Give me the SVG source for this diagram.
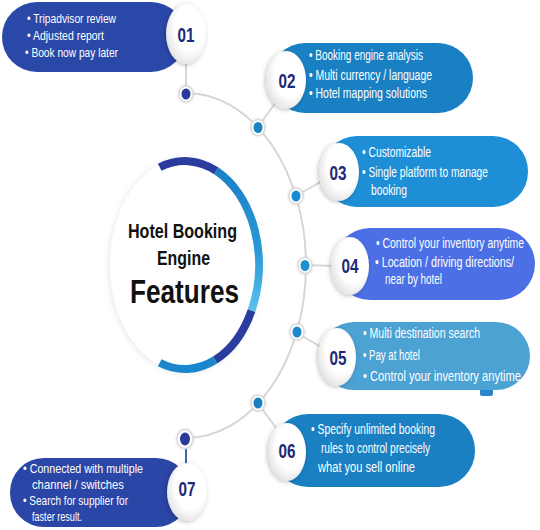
<svg xmlns="http://www.w3.org/2000/svg" width="540" height="530" viewBox="0 0 540 530">
<defs>
<style>
.t{font-family:"Liberation Sans",Arial,sans-serif;fill:#fff;font-size:14px}
.t1{font-size:13.5px}
.n{font-family:"Liberation Sans",Arial,sans-serif;fill:#1d2a78;font-size:21px;font-weight:bold;text-anchor:middle}
.c{font-family:"Liberation Sans",Arial,sans-serif;fill:#111;font-weight:bold}
.num{fill:url(#sph);filter:url(#sh)}
.link{stroke:#d6d6d6;stroke-width:2;fill:none}
.halo{fill:#fff;stroke:#dcdcdc;stroke-width:1.5;filter:url(#sh2)}
</style>
<radialGradient id="sph" cx="0.6" cy="0.4" r="0.65">
<stop offset="0.6" stop-color="#ffffff"/>
<stop offset="1" stop-color="#e2e2e2"/>
</radialGradient>
<linearGradient id="ringg" gradientUnits="userSpaceOnUse" x1="0" y1="170" x2="0" y2="310">
<stop offset="0" stop-color="#1a80c8"/>
<stop offset="0.6" stop-color="#2a9ad8"/>
<stop offset="1" stop-color="#5cc0ec"/>
</linearGradient>
<filter id="sh" x="-40%" y="-40%" width="180%" height="180%">
<feDropShadow dx="-1" dy="1" stdDeviation="2" flood-color="#000" flood-opacity="0.25"/>
</filter>
<filter id="sh2" x="-50%" y="-50%" width="200%" height="200%">
<feDropShadow dx="0" dy="0" stdDeviation="1.2" flood-color="#000" flood-opacity="0.2"/>
</filter>
<filter id="sh3" x="-20%" y="-20%" width="140%" height="140%">
<feDropShadow dx="-1" dy="1" stdDeviation="3" flood-color="#000" flood-opacity="0.1"/>
</filter>
</defs>
<rect width="540" height="530" fill="#fff"/>

<g id="connectors">
<path class="link" d="M186 93 A120 172.5 0 0 1 186 438"/>
<line class="link" x1="186" y1="64" x2="186" y2="93"/>
<line class="link" x1="258" y1="127" x2="276" y2="102"/>
<line class="link" x1="296" y1="196" x2="322" y2="181"/>
<line class="link" x1="306" y1="265" x2="332" y2="266"/>
<line class="link" x1="297" y1="333" x2="321" y2="347"/>
<line class="link" x1="258" y1="403" x2="276" y2="428"/>
<line x1="186" y1="440" x2="186" y2="468" stroke="#3a6aae" stroke-width="2"/>
<ellipse class="halo" cx="186" cy="94" rx="7" ry="8"/><ellipse cx="186" cy="94" rx="4.5" ry="5.5" fill="#2a3a9a"/>
<ellipse class="halo" cx="258" cy="127.5" rx="7" ry="8"/><ellipse cx="258" cy="127.5" rx="4.5" ry="5.5" fill="#1b84c8"/>
<ellipse class="halo" cx="296" cy="196" rx="7" ry="8"/><ellipse cx="296" cy="196" rx="4.5" ry="5.5" fill="#1b8ad0"/>
<ellipse class="halo" cx="305" cy="265.5" rx="7" ry="8"/><ellipse cx="305" cy="265.5" rx="4.5" ry="5.5" fill="#1e90d0"/>
<ellipse class="halo" cx="297" cy="332" rx="7" ry="8"/><ellipse cx="297" cy="332" rx="4.5" ry="5.5" fill="#1e88cc"/>
<ellipse class="halo" cx="258" cy="403" rx="7" ry="8"/><ellipse cx="258" cy="403" rx="4.5" ry="5.5" fill="#1a7fc1"/>
<ellipse class="halo" cx="185" cy="439" rx="8" ry="9.5"/><ellipse cx="185" cy="439" rx="5" ry="6.5" fill="#2a3a9a"/>
</g>

<g id="node-center">
<ellipse cx="186" cy="265" rx="76" ry="107" fill="#fff" filter="url(#sh3)"/>
<path d="M159.7 167.3 A74 104 0 0 1 216.3 170.8" fill="none" stroke="#2c3c9e" stroke-width="8"/>
<path d="M216.3 170.8 A74 104 0 0 1 251.5 310.6" fill="none" stroke="url(#ringg)" stroke-width="8"/>
<path d="M251.5 310.6 A74 104 0 0 1 215.1 360" fill="none" stroke="#2c3c9e" stroke-width="8"/>
<path d="M215.1 360 A74 104 0 0 1 159.7 362.7" fill="none" stroke="#1b86cc" stroke-width="8"/>
<g transform="scale(0.75,1)">
<text class="c" x="170.67" y="238" font-size="21" textLength="145.33" lengthAdjust="spacingAndGlyphs">Hotel Booking</text>
<text class="c" x="209.33" y="265" font-size="20" textLength="70.67" lengthAdjust="spacingAndGlyphs">Engine</text>
<text class="c" x="173.33" y="303" font-size="34" textLength="145.33" lengthAdjust="spacingAndGlyphs">Features</text>
</g>
</g>

<g id="node-01">
<rect x="2" y="2" width="184" height="70" rx="35" fill="#2a48a8"/>
<g transform="scale(0.75,1)">
<text class="t t1" x="36" y="23" textLength="118.67" lengthAdjust="spacingAndGlyphs">• Tripadvisor review</text>
<text class="t t1" x="36" y="40" textLength="102.67" lengthAdjust="spacingAndGlyphs">•  Adjusted report</text>
<text class="t t1" x="33.33" y="57" textLength="124" lengthAdjust="spacingAndGlyphs">• Book now pay later</text>
</g>
<ellipse class="num" cx="186" cy="34" rx="20" ry="30"/>
<text class="n" x="186" y="42" textLength="17" lengthAdjust="spacingAndGlyphs">01</text>
</g>

<g id="node-02">
<rect x="270" y="43" width="203" height="70" rx="35" fill="#1a80c4"/>
<g transform="scale(0.75,1)">
<text class="t" x="412" y="60" textLength="152" lengthAdjust="spacingAndGlyphs">• Booking engine analysis</text>
<text class="t" x="412" y="80" textLength="164" lengthAdjust="spacingAndGlyphs">• Multi currency / language</text>
<text class="t" x="412" y="98" textLength="157.33" lengthAdjust="spacingAndGlyphs">• Hotel mapping solutions</text>
</g>
<ellipse class="num" cx="286" cy="80" rx="20" ry="29"/>
<text class="n" x="287" y="88" textLength="17" lengthAdjust="spacingAndGlyphs">02</text>
</g>

<g id="node-03">
<rect x="322" y="136" width="206" height="71" rx="35" fill="#1e8fd6"/>
<g transform="scale(0.75,1)">
<text class="t" x="482.67" y="157" textLength="92" lengthAdjust="spacingAndGlyphs">• Customizable</text>
<text class="t" x="482.67" y="177" textLength="168" lengthAdjust="spacingAndGlyphs">• Single platform to manage</text>
<text class="t" x="494.67" y="195" textLength="48" lengthAdjust="spacingAndGlyphs">booking</text>
</g>
<ellipse class="num" cx="339" cy="172" rx="20" ry="29"/>
<text class="n" x="338" y="180" textLength="17" lengthAdjust="spacingAndGlyphs">03</text>
</g>

<g id="node-04">
<rect x="334" y="228" width="201" height="72" rx="36" fill="#4d6fe6"/>
<g transform="scale(0.75,1)">
<text class="t" x="501.33" y="248" textLength="197.33" lengthAdjust="spacingAndGlyphs">• Control your inventory anytime</text>
<text class="t" x="500" y="267" textLength="185.33" lengthAdjust="spacingAndGlyphs">• Location / driving directions/</text>
<text class="t" x="513.33" y="284" textLength="76" lengthAdjust="spacingAndGlyphs">near by hotel</text>
</g>
<ellipse class="num" cx="350" cy="266" rx="19" ry="29"/>
<text class="n" x="350" y="273" textLength="17" lengthAdjust="spacingAndGlyphs">04</text>
</g>

<g id="node-05">
<rect x="480" y="388" width="13" height="8" rx="2" fill="#2a86c8"/>
<rect x="320" y="322" width="210" height="68" rx="34" fill="#4ca2d3"/>
<g transform="scale(0.75,1)">
<text class="t" x="484" y="338" textLength="156" lengthAdjust="spacingAndGlyphs">• Multi destination search</text>
<text class="t" x="484" y="360" textLength="76" lengthAdjust="spacingAndGlyphs">• Pay at hotel</text>
<text class="t" x="484" y="381" textLength="210.67" lengthAdjust="spacingAndGlyphs">• Control your inventory anytime</text>
</g>
<ellipse class="num" cx="337" cy="357" rx="19" ry="29"/>
<text class="n" x="338" y="365" textLength="17" lengthAdjust="spacingAndGlyphs">05</text>
</g>

<g id="node-06">
<rect x="272" y="414" width="203" height="73" rx="36" fill="#1a80c2"/>
<g transform="scale(0.75,1)">
<text class="t" x="414.67" y="434" textLength="165.33" lengthAdjust="spacingAndGlyphs">• Specify unlimited booking</text>
<text class="t" x="428" y="453" textLength="145.33" lengthAdjust="spacingAndGlyphs">rules to control precisely</text>
<text class="t" x="424" y="472" textLength="129.33" lengthAdjust="spacingAndGlyphs">what you sell online</text>
</g>
<ellipse class="num" cx="287" cy="452" rx="19" ry="29"/>
<text class="n" x="287" y="458" textLength="17" lengthAdjust="spacingAndGlyphs">06</text>
</g>

<g id="node-07">
<rect x="10" y="458" width="180" height="69" rx="34" fill="#2a46a6"/>
<g transform="scale(0.75,1)">
<text class="t t1" x="30.67" y="473" textLength="160" lengthAdjust="spacingAndGlyphs">• Connected with multiple</text>
<text class="t t1" x="42.67" y="489.5" textLength="122.67" lengthAdjust="spacingAndGlyphs">channel / switches</text>
<text class="t t1" x="30.67" y="505" textLength="140" lengthAdjust="spacingAndGlyphs">• Search for supplier for</text>
<text class="t t1" x="42.67" y="521" textLength="66.67" lengthAdjust="spacingAndGlyphs">faster result.</text>
</g>
<ellipse class="num" cx="187" cy="492" rx="20" ry="29"/>
<text class="n" x="187" y="496" textLength="17" lengthAdjust="spacingAndGlyphs">07</text>
</g>
</svg>
